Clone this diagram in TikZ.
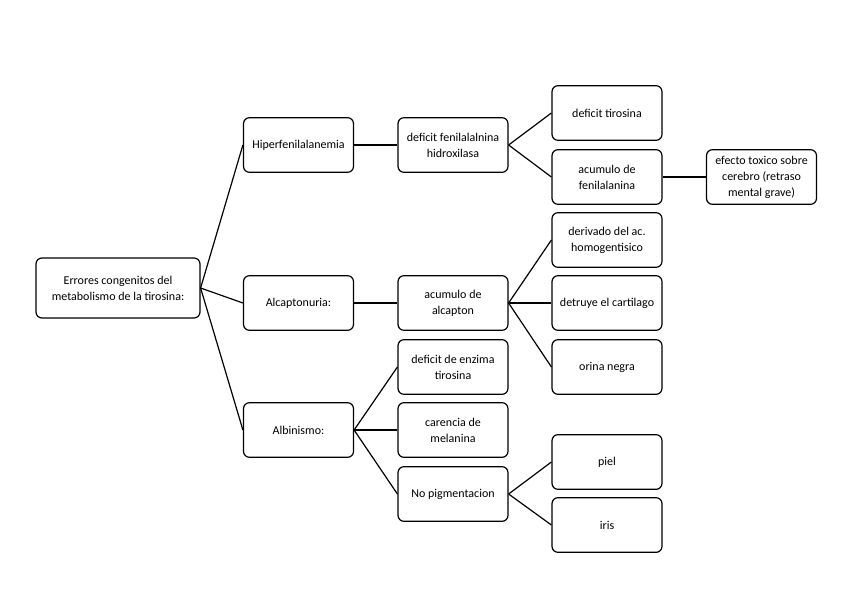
\documentclass[tikz,border=0pt]{standalone}
\usepackage{fontspec}
\setmainfont{Carlito}
\usetikzlibrary{positioning}

\begin{document}
\begin{tikzpicture}[x=0.75pt, y=-0.75pt, line width=0.9pt, box/.style={draw, rounded corners=4.5pt, fill=white, align=center, minimum width=82.5pt, minimum height=41pt, inner sep=2pt, font=\fontsize{9}{12}\selectfont}, rootbox/.style={box, minimum width=123pt, minimum height=45pt}]
\useasboundingbox (0,0) rectangle (848,599);
\node[rootbox] (ERR)   at (118,288)   {Errores congenitos del\\metabolismo de la tirosina:};
\node[box]     (HIPER) at (298.5,145) {Hiperfenilalanemia};
\node[box]     (ALCA)  at (298.5,303) {Alcaptonuria:};
\node[box]     (ALBI)  at (298.5,430) {Albinismo:};
\node[box]     (DEFF)  at (453,145)   {deficit fenilalalnina\\hidroxilasa};
\node[box]     (ACUA)  at (453,303)   {acumulo de\\alcapton};
\node[box]     (DEFE)  at (453,367)   {deficit de enzima\\tirosina};
\node[box]     (CARE)  at (453,430)   {carencia de\\melanina};
\node[box]     (NOPI)  at (453,494)   {No pigmentacion};
\node[box]     (DEFT)  at (607,113)   {deficit tirosina};
\node[box]     (ACUF)  at (607,177)   {acumulo de\\fenilalanina};
\node[box]     (DERI)  at (607,240)   {derivado del ac.\\homogentisico};
\node[box]     (DEST)  at (607,303)   {detruye el cartilago};
\node[box]     (ORIN)  at (607,367)   {orina negra};
\node[box]     (PIEL)  at (607,462)   {piel};
\node[box]     (IRIS)  at (607,525)   {iris};
\node[box]     (EFEC)  at (761.5,177) {efecto toxico sobre\\cerebro (retraso\\mental grave)};
% root to branches
\draw (ERR.east) -- (HIPER.west);
\draw (ERR.east) -- (ALCA.west);
\draw (ERR.east) -- (ALBI.west);
\draw (HIPER.east) -- (DEFF.west);
\draw (ALCA.east) -- (ACUA.west);
\draw (ALBI.east) -- (DEFE.west);
\draw (ALBI.east) -- (CARE.west);
\draw (ALBI.east) -- (NOPI.west);
\draw (DEFF.east) -- (DEFT.west);
\draw (DEFF.east) -- (ACUF.west);
\draw (ACUA.east) -- (DERI.west);
\draw (ACUA.east) -- (DEST.west);
\draw (ACUA.east) -- (ORIN.west);
\draw (NOPI.east) -- (PIEL.west);
\draw (NOPI.east) -- (IRIS.west);
\draw (ACUF.east) -- (EFEC.west);
\end{tikzpicture}
\end{document}
